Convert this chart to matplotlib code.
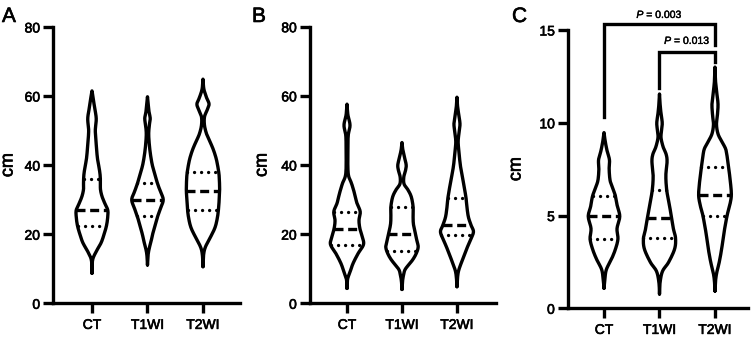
import numpy as np
import matplotlib
matplotlib.use('Agg')
import matplotlib.pyplot as plt
import matplotlib.patheffects as pe

plt.rcParams['font.family'] = ['Liberation Sans', 'DejaVu Sans']
plt.rcParams['mathtext.fontset'] = 'custom'
plt.rcParams['mathtext.it'] = 'Liberation Sans:italic'
plt.rcParams['mathtext.rm'] = 'Liberation Sans'

categories = ['CT', 'T1WI', 'T2WI']
panel_labels = ['A', 'B', 'C']
y_label = 'cm'

# ---------------- Panel A ----------------
a_ticks = [0, 20, 40, 60, 80]
a_median = [27.0, 30.0, 32.6]
a_q1 = [22.3, 25.2, 27.0]
a_q3 = [36.1, 34.7, 38.1]
a_ct_y = [8.7, 12.5, 15, 17.5, 20, 22.5, 25, 27, 29, 31, 33, 35, 37, 39, 42, 46, 50, 53.5, 57, 60, 61.5]
a_ct_d = [0, 2, 14, 30, 40, 48, 52, 52, 42, 33, 28, 28, 27, 24, 18, 14, 11, 14, 8, 3, 0]
a_t1_y = [11.1, 14, 16, 18, 20, 22.5, 25, 27.5, 30, 32.5, 35, 37.5, 40, 43, 46, 49, 51.5, 53.5, 55.5, 58, 59.8]
a_t1_d = [0, 2, 6, 12, 17, 25, 33, 43, 52, 42, 32, 24, 16, 10, 6, 4, 6, 9, 5, 2, 0]
a_t2_y = [10.6, 14, 16.3, 19.2, 22, 25, 28, 31, 33, 36, 38, 41, 43, 45, 47, 49, 51.5, 54, 56, 57.7, 59.5, 62, 64.9]
a_t2_d = [0, 2, 8, 25, 40, 48, 52, 54, 55, 54, 52, 46, 40, 32, 22, 12, 5, 5, 14, 20, 12, 3, 0]

# ---------------- Panel B ----------------
b_ticks = [0, 20, 40, 60, 80]
b_median = [21.6, 19.9, 22.6]
b_q1 = [17.0, 15.2, 19.7]
b_q3 = [26.3, 27.9, 30.6]
b_ct_y = [4.3, 7, 9, 11.5, 14.4, 17, 19.2, 21.6, 24, 26.5, 29, 31.8, 34.7, 36.6, 39, 44, 48.5, 51.5, 54.5, 57.6]
b_ct_d = [0, 2, 10, 20, 37, 55, 51, 43, 40, 44, 33, 25, 15, 6, 3, 3, 4, 10, 3, 0]
b_t1_y = [4.0, 6.5, 8.5, 10, 12.5, 14.5, 16.3, 18, 20, 23, 26, 28, 30.8, 32.8, 34.5, 36.5, 38.5, 40, 42, 44.3, 46.5]
b_t1_d = [0, 2, 6, 12, 35, 48, 54, 50, 45, 38, 37, 37, 31, 20, 7, 6, 12, 14, 9, 3, 0]
b_t2_y = [4.8, 7.5, 9.6, 12.5, 16.3, 18.5, 20.7, 22.6, 25, 28, 30.6, 34.7, 39.5, 44.3, 47, 50, 52, 54.5, 57, 59.6]
b_t2_d = [0, 2, 6, 18, 35, 46, 55, 47, 38, 33, 30, 22, 12, 6, 4, 8, 10, 6, 2, 0]

# ---------------- Panel C ----------------
c_ticks = [0, 5, 10, 15]
c_median = [4.95, 4.87, 6.08]
c_q1 = [3.74, 3.78, 5.0]
c_q3 = [6.04, 6.35, 7.6]
c_ct_y = [1.08, 1.6, 2.1, 2.66, 3.2, 3.74, 4.3, 4.95, 5.5, 6.04, 6.5, 6.9, 7.5, 8.0, 8.5, 9.0, 9.47]
c_ct_d = [0, 3, 8, 25, 38, 46, 43, 52, 44, 38, 28, 20, 17, 18, 10, 4, 0]
c_t1_y = [0.77, 1.4, 2.0, 2.48, 3.2, 3.78, 4.28, 4.87, 5.54, 6.35, 7.16, 7.9, 8.3, 8.7, 9.2, 9.6, 10.0, 10.5, 11.0, 11.55]
c_t1_d = [0, 2, 10, 30, 50, 53, 46, 40, 33, 24, 21, 25, 22, 12, 5, 7, 9, 5, 2, 0]
c_t2_y = [0.93, 1.5, 1.94, 2.48, 3.2, 4.1, 5.0, 5.5, 6.08, 6.8, 7.6, 8.2, 8.6, 9.0, 9.4, 9.9, 10.4, 11.0, 11.6, 12.2, 13.0]
c_t2_d = [0, 2, 6, 14, 22, 30, 40, 48, 54, 51, 45, 40, 35, 22, 10, 5, 8, 10, 6, 2, 0]

# significance brackets (panel C)
bracket_pairs = [(0, 2), (1, 2)]
bracket_top = [15.3, 13.8]
bracket_left_end = [10.3, 11.85]
bracket_right_end = [14.2, 13.3]
p_labels = ['$\\it{P}$ = 0.003', '$\\it{P}$ = 0.013']
p_label_y = [15.65, 14.25]

# ---------------- drawing helpers ----------------
LW = 2.4
DENS_MAX = 55.0
HALF = 0.30
BOLDEN = [pe.withStroke(linewidth=0.45, foreground='black')]


def smooth(y, d, n=10):
    pts = np.column_stack([y, d]).astype(float)
    P = np.vstack([pts[0], pts, pts[-1]])
    out = []
    t = np.linspace(0, 1, n, endpoint=False)[:, None]
    for i in range(1, len(P) - 2):
        p0, p1, p2, p3 = P[i - 1], P[i], P[i + 1], P[i + 2]
        seg = 0.5 * ((2 * p1) + (-p0 + p2) * t + (2 * p0 - 5 * p1 + 4 * p2 - p3) * t ** 2
                     + (-p0 + 3 * p1 - 3 * p2 + p3) * t ** 3)
        out.append(seg)
    out.append(pts[-1][None, :])
    r = np.vstack(out)
    r[:, 1] = np.clip(r[:, 1], 0, None)
    return r[:, 0], r[:, 1]


def violin(ax, pos, y, d, med, q1, q3):
    ys, ds = smooth(y, d)
    w = ds / DENS_MAX * HALF
    xs = np.concatenate([pos + w, (pos - w)[::-1]])
    yy = np.concatenate([ys, ys[::-1]])
    ax.plot(xs, yy, color='black', lw=LW, solid_joinstyle='round',
            solid_capstyle='round', clip_on=False, zorder=3)
    wm = np.interp(med, ys, w)
    ax.plot([pos - wm, pos + wm], [med, med], color='black', lw=LW,
            linestyle=(0, (2.7, 1.4)), dash_capstyle='butt', zorder=3)
    for q in (q1, q3):
        wq = np.interp(q, ys, w)
        ax.plot([pos - wq, pos + wq], [q, q], color='black', lw=2.4,
                linestyle=(0, (0.01, 2.1)), dash_capstyle='round', zorder=3)


fig = plt.figure(figsize=(7.56, 3.40), dpi=100)

W, H = 756.0, 340.0
panels = [
    dict(rect=(53.3, 303.3, 240.0, 27.0), xlim=(-0.697, 2.667), ylim=(0, 80), ticks=a_ticks,
         prof=[(a_ct_y, a_ct_d), (a_t1_y, a_t1_d), (a_t2_y, a_t2_d)],
         med=a_median, q1=a_q1, q3=a_q3, lab_x=8, letter_x=2),
    dict(rect=(310.0, 303.3, 496.0, 26.7), xlim=(-0.673, 2.71), ylim=(0, 80), ticks=b_ticks,
         prof=[(b_ct_y, b_ct_d), (b_t1_y, b_t1_d), (b_t2_y, b_t2_d)],
         med=b_median, q1=b_q1, q3=b_q3, lab_x=262, letter_x=252),
    dict(rect=(568.0, 308.3, 748.0, 30.0), xlim=(-0.649, 2.595), ylim=(0, 15), ticks=c_ticks,
         prof=[(c_ct_y, c_ct_d), (c_t1_y, c_t1_d), (c_t2_y, c_t2_d)],
         med=c_median, q1=c_q1, q3=c_q3, lab_x=516, letter_x=512),
]

axes = []
for i, p in enumerate(panels):
    x0, yb, x1, yt = p['rect']
    ax = fig.add_axes([x0 / W, 1 - yb / H, (x1 - x0) / W, (yb - yt) / H])
    axes.append(ax)
    ax.set_xlim(*p['xlim'])
    ax.set_ylim(*p['ylim'])
    for k, (yv, dv) in enumerate(p['prof']):
        violin(ax, k, yv, dv, p['med'][k], p['q1'][k], p['q3'][k])
    ax.set_xticks(range(len(categories)))
    ax.set_xticklabels(categories)
    ax.set_yticks(p['ticks'])
    for s in ('top', 'right'):
        ax.spines[s].set_visible(False)
    for s in ('left', 'bottom'):
        ax.spines[s].set_linewidth(LW)
        ax.spines[s].set_capstyle('projecting')
    ax.tick_params(axis='both', length=7.5, width=LW, labelsize=10, color='black')
    ax.tick_params(axis='y', pad=2)
    ax.tick_params(axis='x', pad=3)
    for lab in ax.get_xticklabels() + ax.get_yticklabels():
        lab.set_path_effects(BOLDEN)
    ax.patch.set_visible(False)
    fig.text(p['lab_x'] / W, 1 - ((yb + yt) / 2) / H, y_label, rotation=90,
             ha='center', va='center', fontsize=13, path_effects=BOLDEN)
    fig.text(p['letter_x'] / W, 1 - 22 / H, panel_labels[i], ha='left', va='baseline',
             fontsize=15, path_effects=BOLDEN)

axc = axes[2]
for (i0, i1), yt, yl, yr in zip(bracket_pairs, bracket_top, bracket_left_end, bracket_right_end):
    axc.plot([i0, i0, i1, i1], [yl, yt, yt, yr], color='black', lw=LW,
             solid_joinstyle='miter', clip_on=False)
for (i0, i1), lab, ly in zip(bracket_pairs, p_labels, p_label_y):
    axc.text((i0 + i1) / 2, ly, lab, ha='center', va='baseline', fontsize=7.5,
             path_effects=[pe.withStroke(linewidth=0.3, foreground='black')])

fig.savefig('out.png', dpi=100)
